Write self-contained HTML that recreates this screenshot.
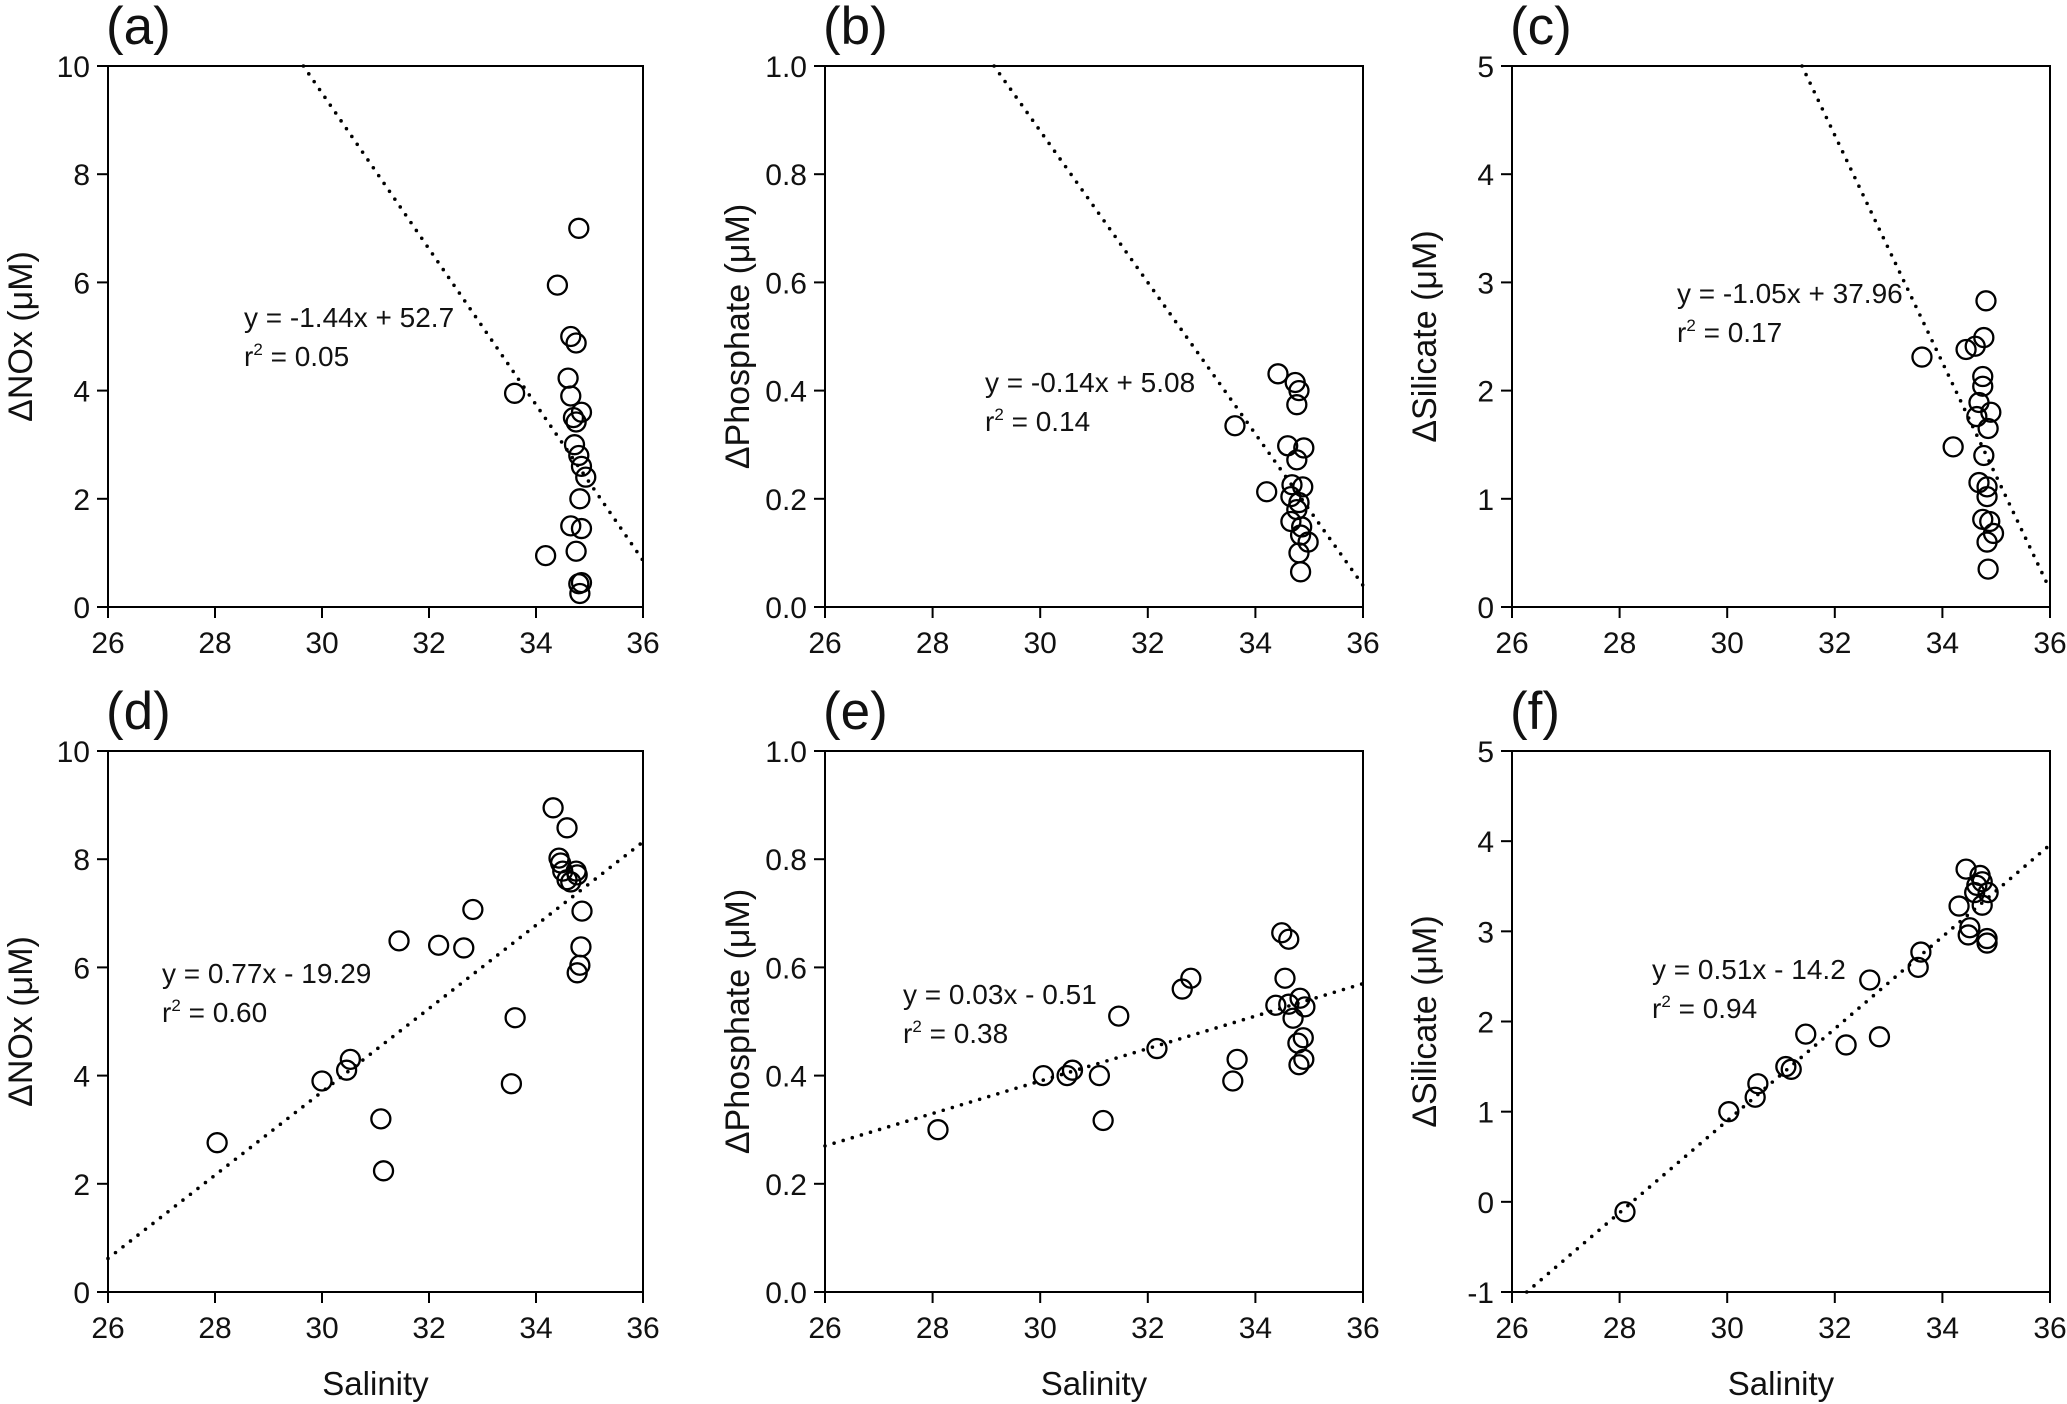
<!DOCTYPE html>
<html><head><meta charset="utf-8">
<style>
html,body{margin:0;padding:0;background:#fff;}
svg{display:block;font-family:"Liberation Sans",Arial,sans-serif;}
</style></head>
<body>
<svg id="fig" width="2067" height="1404" viewBox="0 0 2067 1404" xmlns="http://www.w3.org/2000/svg"></svg>
<script>
// ---- data ----
const aX=[34.8,34.4,34.65,34.75,34.6,33.6,34.65,34.85,34.7,34.75,34.72,34.8,34.85,34.93,34.82,34.65,34.85,34.18,34.75,34.8,34.85,34.82];
const aY=[7.0,5.95,5.0,4.88,4.23,3.95,3.9,3.6,3.5,3.42,3.0,2.8,2.6,2.4,2.0,1.5,1.45,0.95,1.03,0.43,0.45,0.25];
const bX=[34.42,34.74,34.81,34.77,33.62,34.6,34.9,34.77,34.21,34.68,34.88,34.66,34.81,34.77,34.66,34.86,34.84,34.98,34.81,34.84];
const bY=[0.431,0.415,0.40,0.374,0.335,0.298,0.294,0.272,0.213,0.226,0.222,0.204,0.193,0.18,0.158,0.148,0.133,0.12,0.10,0.065];
const cX=[34.81,33.62,34.44,34.61,34.77,34.75,34.75,34.68,34.9,34.64,34.85,34.2,34.77,34.68,34.83,34.83,34.75,34.88,34.95,34.83,34.85];
const cY=[2.83,2.31,2.38,2.41,2.49,2.13,2.04,1.89,1.80,1.76,1.65,1.48,1.40,1.15,1.11,1.02,0.81,0.79,0.68,0.60,0.35];
const dX=[28.04,30.0,30.46,30.53,31.1,31.15,31.44,32.18,32.65,32.82,33.54,33.61,34.32,34.58,34.43,34.46,34.5,34.58,34.75,34.65,34.77,34.86,34.84,34.82,34.77];
const dY=[2.76,3.9,4.1,4.3,3.2,2.24,6.49,6.41,6.36,7.07,3.85,5.07,8.95,8.58,8.02,7.93,7.78,7.62,7.78,7.58,7.71,7.04,6.38,6.04,5.9];
const eX=[28.1,30.06,30.5,30.6,31.1,31.17,31.46,32.17,32.64,32.8,34.49,34.62,34.55,34.38,34.62,34.83,34.92,34.7,34.89,34.79,34.9,34.81,33.66,33.58];
const eY=[0.30,0.40,0.40,0.41,0.40,0.317,0.51,0.45,0.56,0.58,0.664,0.652,0.58,0.53,0.532,0.543,0.527,0.506,0.47,0.46,0.43,0.42,0.43,0.39];
const fX=[28.1,30.03,30.52,30.57,31.09,31.19,31.46,32.21,32.65,32.83,33.55,33.6,34.44,34.31,34.64,34.74,34.6,34.85,34.74,34.51,34.48,34.83,34.83,34.7];
const fY=[-0.11,1.0,1.16,1.31,1.5,1.47,1.86,1.74,2.46,1.83,2.6,2.77,3.69,3.28,3.51,3.55,3.43,3.43,3.29,3.04,2.96,2.92,2.87,3.62];
const xTicks=[26,28,30,32,34,36];
const nTicks=[0,2,4,6,8,10];
const pTicks=["0.0","0.2","0.4","0.6","0.8","1.0"];
const sTicksTop=[0,1,2,3,4,5];
const sTicksBot=[-1,0,1,2,3,4,5];
const slopes=[-1.44,-0.14,-1.05,0.77,0.03,0.51];
const intercepts=[52.7,5.08,37.96,-19.4,-0.51,-14.4];
const eqTexts=["y = -1.44x + 52.7","y = -0.14x + 5.08","y = -1.05x + 37.96","y = 0.77x - 19.29","y = 0.03x - 0.51","y = 0.51x - 14.2"];
const r2Texts=["0.05","0.14","0.17","0.60","0.38","0.94"];

const NS="http://www.w3.org/2000/svg";
const svg=document.getElementById('fig');
function mk(tag,attrs,parent){const e=document.createElementNS(NS,tag);for(const k in attrs)e.setAttribute(k,attrs[k]);(parent||svg).appendChild(e);return e;}

const panels=[
 {id:'a',x0:108,x1:643,y0:66,y1:607,ymin:0,ymax:10,ticks:nTicks,tl:null,X:aX,Y:aY,title:'NOx',eq:[244,327],lab:[106,44],sal:false},
 {id:'b',x0:825,x1:1363,y0:66,y1:607,ymin:0,ymax:1,ticks:pTicks.map(Number),tl:pTicks,X:bX,Y:bY,title:'Phosphate',eq:[985,392],lab:[823,44],sal:false},
 {id:'c',x0:1512,x1:2050,y0:66,y1:607,ymin:0,ymax:5,ticks:sTicksTop,tl:null,X:cX,Y:cY,title:'Silicate',eq:[1677,303],lab:[1510,44],sal:false},
 {id:'d',x0:108,x1:643,y0:751,y1:1292,ymin:0,ymax:10,ticks:nTicks,tl:null,X:dX,Y:dY,title:'NOx',eq:[162,983],lab:[106,729],sal:true},
 {id:'e',x0:825,x1:1363,y0:751,y1:1292,ymin:0,ymax:1,ticks:pTicks.map(Number),tl:pTicks,X:eX,Y:eY,title:'Phosphate',eq:[903,1004],lab:[823,729],sal:true},
 {id:'f',x0:1512,x1:2050,y0:751,y1:1292,ymin:-1,ymax:5,ticks:sTicksBot,tl:null,X:fX,Y:fY,title:'Silicate',eq:[1652,979],lab:[1510,729],sal:true}
];

panels.forEach((p,i)=>{
  const g=mk('g',{});
  
  
  const sx=v=>p.x0+(v-26)/10*(p.x1-p.x0);
  const sy=v=>p.y1-(v-p.ymin)/(p.ymax-p.ymin)*(p.y1-p.y0);
  const fr=mk('rect',{x:p.x0,y:p.y0,width:p.x1-p.x0,height:p.y1-p.y0,fill:'none',stroke:'#000','stroke-width':2},g);
  
  
  xTicks.forEach(t=>{
    mk('line',{x1:sx(t),x2:sx(t),y1:p.y1,y2:p.y1+11,stroke:'#000','stroke-width':2},g);
    const tx=mk('text',{x:sx(t),y:p.y1+46,'font-size':30,'text-anchor':'middle',fill:'#111'},g);
    tx.textContent=t;
    
    
  });
  p.ticks.forEach((t,k)=>{
    mk('line',{x1:p.x0-11,x2:p.x0,y1:sy(t),y2:sy(t),stroke:'#000','stroke-width':2},g);
    const ty=mk('text',{x:p.x0-18,y:sy(t)+11,'font-size':30,'text-anchor':'end',fill:'#111'},g);
    ty.textContent=p.tl?p.tl[k]:t;
    
    
  });
  const cy=(p.y0+p.y1)/2, cx=p.x0-76;
  const yt=mk('text',{x:cx,y:cy,'font-size':34,'text-anchor':'middle',fill:'#111',transform:`rotate(-90 ${cx} ${cy})`},g);
  yt.textContent='\u0394'+p.title+' (\u03bcM)';
  
  
  if(p.sal){
    const st=mk('text',{x:(p.x0+p.x1)/2,y:p.y1+103,'font-size':33,'text-anchor':'middle',fill:'#111'},g);
    st.textContent='Salinity';
    
    
  }
  const pl=mk('text',{x:p.lab[0],y:p.lab[1],'font-size':53,fill:'#111'},g);
  pl.textContent='('+p.id+')';
  
  
  const m=slopes[i], b=intercepts[i];
  let xa=26, xb=36;
  const xAtMax=(p.ymax-b)/m, xAtMin=(p.ymin-b)/m;
  const lo=Math.min(xAtMax,xAtMin), hi=Math.max(xAtMax,xAtMin);
  xa=Math.max(xa,lo); xb=Math.min(xb,hi);
  const rl=mk('line',{x1:sx(xa),y1:sy(m*xa+b),x2:sx(xb),y2:sy(m*xb+b),stroke:'#000','stroke-width':3.6,'stroke-linecap':'round','stroke-dasharray':'0 9.5'},g);
  
  
  p.X.forEach((v,k)=>{
    const c=mk('circle',{cx:sx(v),cy:sy(p.Y[k]),r:9.5,fill:'#fff','fill-opacity':0,stroke:'#000','stroke-width':2.3},g);
    
    
  });
  const eq=mk('text',{x:p.eq[0],y:p.eq[1],'font-size':28,fill:'#111'},g);
  eq.textContent=eqTexts[i];
  
  
  const r2=mk('text',{x:p.eq[0],y:p.eq[1]+39,'font-size':28,fill:'#111'},g);
  r2.innerHTML='r<tspan dy="-11" font-size="17">2</tspan><tspan dy="11"> = '+r2Texts[i]+'</tspan>';
  
  
});
</script>
</body></html>
